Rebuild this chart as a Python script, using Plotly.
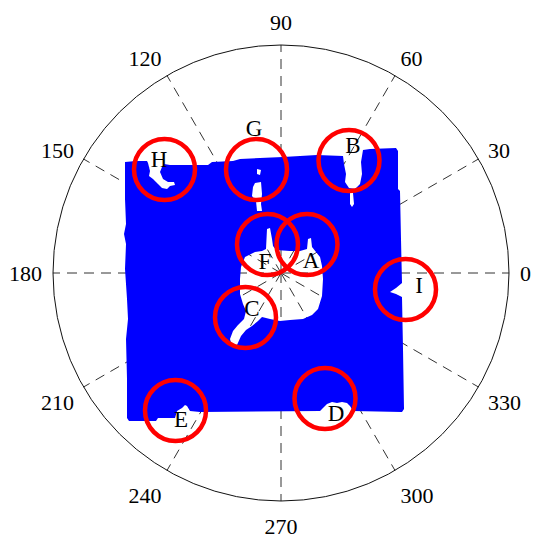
import numpy as np
import plotly.graph_objects as go

# polar axis limit and angular ticks
R_MAX = 228
ANGLE_TICKS = [0, 30, 60, 90, 120, 150, 180, 210, 240, 270, 300, 330]

# outer boundary of the covered (blue) area, x/y in plot units (pole at origin)
outer_x = [-156, -145, -134, -133, -131, -132, -128, -123, -119, -114, -111, -106, -107, -113,
           -118, -121, -119, -117, -111, -73, -69, -48, -41, 2, 36, 62, 63, 65, 64, 68, 74, 79,
           81, 80, 82, 89, 115, 117, 117, 119, 120, 121, 115, 109, 115, 121, 122, 123, 121, 72,
           69, 66, 61, 56, 51, 46, 42, 39, -81, -91, -94, -96, -99, -104, -106, -123, -125,
           -152, -154, -154, -155, -153, -154, -156, -155, -157, -155, -156, -156]
outer_y = [111, 112, 112, 110, 102, 97, 94, 89, 85, 84, 87, 88, 91, 91,
           94, 101, 106, 109, 108, 108, 111, 112, 114, 116, 118, 117, 109, 99, 91, 85, 84, 89,
           99, 111, 123, 124, 125, 122, 84, 82, 34, -10, -15, -19, -21, -24, -76, -136, -139, -138,
           -133, -130, -129, -130, -129, -131, -135, -138, -139, -138, -133, -132, -135, -138, -145, -145, -148,
           -148, -145, -106, -66, -46, -26, 4, 29, 39, 49, 74, 109]

# uncovered (white) holes inside the area
hole_center_x = [-36, -26, -19, -15, -14, -11, -9, -8, -5, 9, 19, 26, 27, 30, 31, 35, 39, 41, 42,
                 41, 37, 31, 22, 9, -1, -11, -19, -23, -29, -35, -40, -44, -49, -51, -48, -43,
                 -37, -35, -38, -41, -41, -40]
hole_center_y = [16, 21, 22, 24, 44, 45, 34, 27, 23, 22, 22, 24, 34, 35, 26, 21, 16, 7, -6,
                 -23, -36, -42, -46, -47, -48, -46, -44, -48, -53, -57, -63, -72, -73, -66, -58, -52,
                 -46, -38, -31, -21, -6, 6]
hole_g_x = [-26, -20, -19, -20, -19, -24, -25, -29, -28]
hole_g_y = [90, 91, 79, 69, 62, 62, 72, 77, 86]
hole_g2_x = [-24, -20, -21, -24]
hole_g2_y = [104, 103, 98, 99]
hole_b_x = [69, 72, 73, 71, 69]
hole_b_y = [80, 80, 69, 66, 69]

# marked spots
spot_labels = ["A", "B", "C", "D", "E", "F", "G", "H", "I"]
spot_x = [26, 68, -35.5, 44, -105.5, -13.5, -24.5, -116.5, 124.5]
spot_y = [28.5, 112.5, -44.5, -125.5, -137.5, 28.5, 103.5, 103.5, -16.5]
label_x = [30, 72, -29, 55, -100, -16, -27, -122, 138]
label_y = [10.5, 125.5, -37, -142, -148, 10, 143, 112, -14]


def ring(xs, ys, ccw):
    xs, ys = list(xs), list(ys)
    area = sum(xs[i] * ys[(i + 1) % len(xs)] - xs[(i + 1) % len(xs)] * ys[i] for i in range(len(xs)))
    if (area > 0) != ccw:
        xs, ys = xs[::-1], ys[::-1]
    return xs + [xs[0]], ys + [ys[0]]


def to_polar(xs, ys):
    xs, ys = np.asarray(xs, float), np.asarray(ys, float)
    return np.hypot(xs, ys), np.degrees(np.arctan2(ys, xs))


# one path: outer ring plus holes joined by keyhole bridges (opposite winding -> holes)
px, py = ring(outer_x, outer_y, True)
x0, y0 = px[0], py[0]
for hx, hy in [(hole_center_x, hole_center_y), (hole_g_x, hole_g_y),
               (hole_g2_x, hole_g2_y), (hole_b_x, hole_b_y)]:
    rx, ry = ring(hx, hy, False)
    px += rx + [x0]
    py += ry + [y0]

area_r, area_t = to_polar(px, py)
spot_r, spot_t = to_polar(spot_x, spot_y)
lab_r, lab_t = to_polar(label_x, label_y)

font = "Liberation Serif, Times New Roman, serif"

fig = go.Figure()

fig.add_trace(go.Scatterpolar(
    r=area_r, theta=area_t, mode="lines", fill="toself",
    fillcolor="#0000ff", line=dict(width=0, color="#0000ff"),
    hoverinfo="skip", showlegend=False
))

fig.add_trace(go.Scatterpolar(
    r=spot_r, theta=spot_t, mode="markers",
    marker=dict(symbol="circle-open", size=61, color="#ff0000",
                line=dict(width=4.5, color="#ff0000")),
    showlegend=False
))

fig.add_trace(go.Scatterpolar(
    r=lab_r, theta=lab_t, mode="text", text=spot_labels,
    textposition="middle center",
    textfont=dict(family=font, size=23, color="black"),
    showlegend=False
))

# page body adds an 8px margin, so the figure is 8px smaller and shifted
fig.update_layout(
    width=542, height=538,
    margin=dict(l=45, r=41, t=37, b=45),
    paper_bgcolor="white",
    font=dict(family=font, size=22, color="black"),
    polar=dict(
        bgcolor="white",
        domain=dict(x=[0, 1], y=[0, 1]),
        radialaxis=dict(range=[0, R_MAX], visible=False, showgrid=False),
        angularaxis=dict(
            tickmode="array", tickvals=ANGLE_TICKS,
            ticktext=[str(a) for a in ANGLE_TICKS],
            direction="counterclockwise", rotation=0,
            ticks="outside", ticklen=6, tickcolor="rgba(0,0,0,0)",
            showline=True, linecolor="#111111", linewidth=1,
            showgrid=True, gridcolor="#333333", gridwidth=1, griddash="10px,7px",
            tickfont=dict(family=font, size=22, color="black")
        )
    )
)

fig.write_html("out.html")
